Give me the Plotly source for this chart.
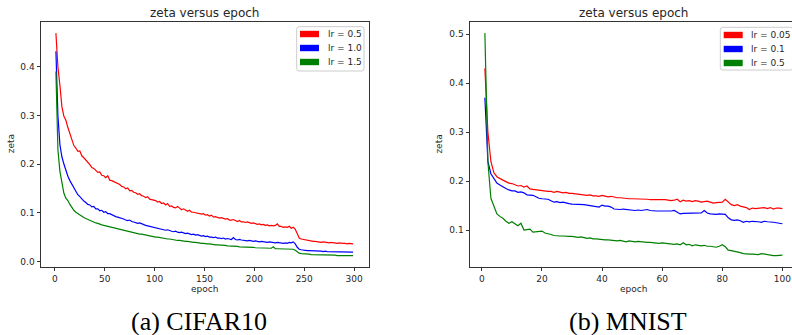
import plotly.graph_objects as go

# ---------------- data ----------------
cifar_epochs = list(range(1, 300, 2))
cifar_lr05 = [
    0.469, 0.400, 0.362, 0.318, 0.298,
    0.290, 0.275, 0.262, 0.250, 0.238,
    0.233, 0.226, 0.227, 0.217, 0.213,
    0.209, 0.203, 0.199, 0.193, 0.191,
    0.187, 0.183, 0.184, 0.177, 0.176,
    0.172, 0.176, 0.167, 0.166, 0.164,
    0.161, 0.160, 0.158, 0.154, 0.153,
    0.149, 0.151, 0.145, 0.146, 0.142,
    0.141, 0.138, 0.139, 0.135, 0.134,
    0.131, 0.133, 0.128, 0.127, 0.126,
    0.125, 0.122, 0.123, 0.119, 0.120,
    0.116, 0.119, 0.113, 0.114, 0.111,
    0.110, 0.113, 0.109, 0.106, 0.108,
    0.105, 0.103, 0.105, 0.101, 0.101,
    0.100, 0.099, 0.098, 0.097, 0.098,
    0.095, 0.096, 0.093, 0.095, 0.091,
    0.092, 0.090, 0.089, 0.090, 0.088,
    0.087, 0.088, 0.085, 0.085, 0.086,
    0.084, 0.082, 0.084, 0.081, 0.081,
    0.080, 0.081, 0.079, 0.078, 0.079,
    0.078, 0.076, 0.077, 0.075, 0.076,
    0.074, 0.075, 0.073, 0.074, 0.073,
    0.074, 0.077, 0.072, 0.072, 0.070,
    0.071, 0.070, 0.072, 0.068, 0.070,
    0.066, 0.055, 0.048, 0.046, 0.045,
    0.044, 0.043, 0.042, 0.042, 0.041,
    0.041, 0.040, 0.040, 0.039, 0.040,
    0.039, 0.039, 0.038, 0.039, 0.038,
    0.038, 0.037, 0.038, 0.037, 0.037,
    0.037, 0.036, 0.037, 0.036, 0.036,
]
cifar_lr10 = [
    0.432, 0.300, 0.240, 0.215, 0.200,
    0.185, 0.175, 0.166, 0.158, 0.150,
    0.143, 0.137, 0.133, 0.128, 0.124,
    0.121, 0.117, 0.116, 0.112, 0.113,
    0.108, 0.108, 0.104, 0.105, 0.101,
    0.102, 0.098, 0.098, 0.096, 0.093,
    0.092, 0.091, 0.090, 0.088, 0.087,
    0.085, 0.084, 0.085, 0.082, 0.081,
    0.080, 0.078, 0.079, 0.077, 0.075,
    0.074, 0.073, 0.072, 0.071, 0.070,
    0.069, 0.068, 0.067, 0.067, 0.065,
    0.064, 0.065, 0.063, 0.062, 0.061,
    0.062, 0.060, 0.059, 0.060, 0.058,
    0.057, 0.058, 0.056, 0.055, 0.056,
    0.054, 0.055, 0.053, 0.052, 0.053,
    0.051, 0.052, 0.050, 0.050, 0.049,
    0.050, 0.048, 0.048, 0.047, 0.048,
    0.046, 0.047, 0.046, 0.045, 0.049,
    0.045, 0.044, 0.045, 0.044, 0.043,
    0.043, 0.042, 0.043, 0.042, 0.041,
    0.042, 0.041, 0.040, 0.041, 0.040,
    0.040, 0.039, 0.040, 0.039, 0.039,
    0.038, 0.039, 0.038, 0.038, 0.037,
    0.038, 0.037, 0.039, 0.038, 0.040,
    0.036, 0.029, 0.025, 0.024, 0.023,
    0.023, 0.022, 0.022, 0.022, 0.021,
    0.022, 0.021, 0.021, 0.021, 0.020,
    0.021, 0.020, 0.020, 0.020, 0.020,
    0.020, 0.019, 0.020, 0.019, 0.019,
    0.019, 0.019, 0.019, 0.019, 0.019,
]
cifar_lr15 = [
    0.390, 0.230, 0.185, 0.160, 0.140,
    0.130, 0.125, 0.117, 0.110, 0.105,
    0.101, 0.098, 0.095, 0.092, 0.090,
    0.088, 0.086, 0.084, 0.082, 0.081,
    0.079, 0.078, 0.076, 0.075, 0.074,
    0.073, 0.071, 0.070, 0.069, 0.068,
    0.067, 0.066, 0.065, 0.064, 0.063,
    0.062, 0.062, 0.061, 0.060, 0.059,
    0.058, 0.057, 0.056, 0.056, 0.055,
    0.054, 0.053, 0.052, 0.052, 0.051,
    0.050, 0.050, 0.049, 0.048, 0.048,
    0.047, 0.046, 0.046, 0.045, 0.044,
    0.044, 0.043, 0.043, 0.042, 0.042,
    0.041, 0.041, 0.040, 0.040, 0.039,
    0.039, 0.038, 0.038, 0.037, 0.037,
    0.036, 0.036, 0.036, 0.035, 0.035,
    0.034, 0.034, 0.034, 0.033, 0.033,
    0.033, 0.032, 0.032, 0.032, 0.031,
    0.031, 0.031, 0.030, 0.030, 0.030,
    0.030, 0.029, 0.029, 0.029, 0.029,
    0.028, 0.028, 0.028, 0.028, 0.027,
    0.027, 0.027, 0.027, 0.027, 0.030,
    0.026, 0.026, 0.026, 0.026, 0.026,
    0.025, 0.025, 0.025, 0.025, 0.025,
    0.023, 0.019, 0.017, 0.016, 0.016,
    0.015, 0.015, 0.015, 0.014, 0.014,
    0.014, 0.014, 0.014, 0.013, 0.013,
    0.013, 0.013, 0.013, 0.013, 0.013,
    0.013, 0.012, 0.012, 0.012, 0.012,
    0.012, 0.012, 0.012, 0.012, 0.012,
]

mnist_epochs = list(range(1, 101))
mnist_lr005 = [
    0.430, 0.300, 0.240, 0.217, 0.209, 0.205, 0.202, 0.199, 0.196, 0.195,
    0.193, 0.190, 0.191, 0.188, 0.190, 0.184, 0.183, 0.182, 0.182, 0.181,
    0.180, 0.179, 0.179, 0.177, 0.179, 0.177, 0.176, 0.177, 0.175, 0.175,
    0.174, 0.173, 0.172, 0.172, 0.171, 0.172, 0.170, 0.170, 0.169, 0.171,
    0.169, 0.168, 0.169, 0.167, 0.166, 0.166, 0.165, 0.165, 0.164, 0.164,
    0.164, 0.163, 0.163, 0.163, 0.163, 0.162, 0.162, 0.163, 0.163, 0.163,
    0.162, 0.161, 0.160, 0.161, 0.163, 0.158, 0.161, 0.159, 0.160, 0.158,
    0.160, 0.159, 0.157, 0.158, 0.159, 0.157, 0.155, 0.156, 0.157, 0.157,
    0.163, 0.157, 0.152, 0.150, 0.152, 0.149, 0.148, 0.146, 0.142, 0.145,
    0.144, 0.145, 0.145, 0.146, 0.144, 0.146, 0.143, 0.145, 0.145, 0.144,
]
mnist_lr01 = [
    0.370, 0.240, 0.215, 0.204, 0.196, 0.192, 0.188, 0.185, 0.182, 0.180,
    0.180, 0.177, 0.178, 0.176, 0.172, 0.172, 0.171, 0.168, 0.165, 0.164,
    0.164, 0.163, 0.160, 0.157, 0.158, 0.156, 0.157, 0.155, 0.154, 0.153,
    0.153, 0.153, 0.152, 0.152, 0.151, 0.150, 0.149, 0.148, 0.147, 0.151,
    0.149, 0.149, 0.147, 0.143, 0.142, 0.142, 0.143, 0.142, 0.141, 0.141,
    0.140, 0.141, 0.140, 0.141, 0.142, 0.140, 0.139, 0.139, 0.139, 0.139,
    0.138, 0.138, 0.139, 0.140, 0.136, 0.133, 0.134, 0.134, 0.134, 0.135,
    0.134, 0.134, 0.135, 0.140, 0.135, 0.133, 0.132, 0.132, 0.133, 0.133,
    0.132, 0.125, 0.121, 0.120, 0.121, 0.119, 0.116, 0.118, 0.117, 0.118,
    0.118, 0.117, 0.116, 0.118, 0.117, 0.117, 0.116, 0.115, 0.114, 0.113,
]
mnist_lr05 = [
    0.502, 0.240, 0.165, 0.147, 0.133, 0.128, 0.124, 0.118, 0.114, 0.117,
    0.113, 0.109, 0.114, 0.100, 0.101, 0.102, 0.096, 0.097, 0.097, 0.098,
    0.094, 0.093, 0.091, 0.089, 0.088, 0.088, 0.088, 0.087, 0.087, 0.087,
    0.086, 0.085, 0.086, 0.084, 0.083, 0.084, 0.082, 0.082, 0.081, 0.080,
    0.080, 0.080, 0.079, 0.079, 0.078, 0.079, 0.077, 0.076, 0.078, 0.077,
    0.076, 0.077, 0.076, 0.075, 0.075, 0.075, 0.074, 0.074, 0.073, 0.074,
    0.073, 0.073, 0.072, 0.071, 0.072, 0.070, 0.074, 0.070, 0.071, 0.068,
    0.070, 0.069, 0.068, 0.069, 0.067, 0.067, 0.066, 0.065, 0.067, 0.070,
    0.066, 0.059, 0.058, 0.057, 0.056, 0.054, 0.052, 0.051, 0.051, 0.051,
    0.051, 0.050, 0.052, 0.051, 0.049, 0.049, 0.048, 0.048, 0.048, 0.049,
]

cifar_labels = ["lr = 0.5", "lr = 1.0", "lr = 1.5"]
mnist_labels = ["lr = 0.05", "lr = 0.1", "lr = 0.5"]
series_colors = ["#ff0000", "#0000ff", "#008000"]

cifar_xticks = [0, 50, 100, 150, 200, 250, 300]
cifar_yticks = [0.0, 0.1, 0.2, 0.3, 0.4]
mnist_xticks = [0, 20, 40, 60, 80, 100]
mnist_yticks = [0.1, 0.2, 0.3, 0.4, 0.5]

panel_title = "zeta versus epoch"
x_label = "epoch"
y_label = "zeta"
captions = ["(a) CIFAR10", "(b) MNIST"]

# ---------------- figure ----------------
W, H = 792, 335


def px(x):
    return x / W


def py(y):
    return 1 - y / H


fig = go.Figure()

for ys, c in zip([cifar_lr05, cifar_lr10, cifar_lr15], series_colors):
    fig.add_trace(go.Scatter(x=cifar_epochs, y=ys, mode="lines",
                             line=dict(color=c, width=1.2),
                             showlegend=False, xaxis="x", yaxis="y"))
for ys, c in zip([mnist_lr005, mnist_lr01, mnist_lr05], series_colors):
    fig.add_trace(go.Scatter(x=mnist_epochs, y=ys, mode="lines",
                             line=dict(color=c, width=1.2),
                             showlegend=False, xaxis="x2", yaxis="y2"))

FONT = "DejaVu Sans"
TXT = "#262626"
axis_common = dict(showgrid=False, zeroline=False, showline=True,
                   linecolor="#333333", linewidth=1, ticks="outside",
                   ticklen=3.5, tickwidth=0.8, tickcolor="#333333",
                   tickfont=dict(family=FONT, size=9, color=TXT))

fig.update_layout(
    width=W, height=H,
    margin=dict(l=0, r=0, t=0, b=0),
    paper_bgcolor="white", plot_bgcolor="white",
    showlegend=False,
    xaxis=dict(domain=[px(41), px(369)], range=[-13.95, 314.95],
               tickvals=cifar_xticks, ticktext=[str(v) for v in cifar_xticks],
               mirror=True, anchor="y", **axis_common),
    yaxis=dict(domain=[py(266.7), py(22)], range=[-0.0109, 0.4919],
               tickvals=cifar_yticks, ticktext=[f"{v:.1f}" for v in cifar_yticks],
               mirror=True, anchor="x", **axis_common),
    xaxis2=dict(domain=[px(470), 1.0], range=[-3.95, 103.2],
                tickvals=mnist_xticks, ticktext=[str(v) for v in mnist_xticks],
                mirror=True, anchor="y2", **axis_common),
    yaxis2=dict(domain=[py(266.7), py(22)], range=[0.0253, 0.5247],
                tickvals=mnist_yticks, ticktext=[f"{v:.1f}" for v in mnist_yticks],
                mirror=False, anchor="x2", **axis_common),
)

annotations = []
shapes = []

# titles, axis labels, captions
for cx, ylx in [(205, 11), (633.7, 439.3)]:
    annotations.append(dict(x=px(cx), y=py(12.7), xref="paper", yref="paper",
                            text=panel_title, showarrow=False,
                            xanchor="center", yanchor="middle",
                            font=dict(family=FONT, size=12, color=TXT)))
    annotations.append(dict(x=px(cx), y=py(288.7), xref="paper", yref="paper",
                            text=x_label, showarrow=False,
                            xanchor="center", yanchor="middle",
                            font=dict(family=FONT, size=9, color=TXT)))
    annotations.append(dict(x=px(ylx), y=py(144.3), xref="paper", yref="paper",
                            text=y_label, showarrow=False, textangle=-90,
                            xanchor="center", yanchor="middle",
                            font=dict(family=FONT, size=9, color=TXT)))

for cap, cx in zip(captions, [199, 628]):
    annotations.append(dict(x=px(cx), y=py(321), xref="paper", yref="paper",
                            text=cap, showarrow=False,
                            xanchor="center", yanchor="middle",
                            font=dict(family="Liberation Serif", size=26, color="black")))


def rounded_rect(x0, y0, x1, y1, r=2.5):
    # pixel coords, y down
    X0, X1 = px(x0), px(x1)
    Y0, Y1 = py(y0), py(y1)
    rx, ry = r / W, r / H
    return (f"M {X0 + rx},{Y0} L {X1 - rx},{Y0} Q {X1},{Y0} {X1},{Y0 - ry} "
            f"L {X1},{Y1 + ry} Q {X1},{Y1} {X1 - rx},{Y1} "
            f"L {X0 + rx},{Y1} Q {X0},{Y1} {X0},{Y1 + ry} "
            f"L {X0},{Y0 - ry} Q {X0},{Y0} {X0 + rx},{Y0} Z")


legend_specs = [
    (cifar_labels, 296.7, 364.0, 26.7, 71.0, 300.0, 34.0),
    (mnist_labels, 720.3, 793.0, 27.3, 70.0, 723.7, 35.0),
]
for labels, bx0, bx1, by0, by1, patch_x, row0 in legend_specs:
    shapes.append(dict(type="path", xref="paper", yref="paper",
                       path=rounded_rect(bx0, by0, bx1, by1),
                       line=dict(color="#cccccc", width=1),
                       fillcolor="rgba(255,255,255,0.8)", layer="above"))
    for i, (lab, col) in enumerate(zip(labels, series_colors)):
        cy = row0 + i * 14.0
        shapes.append(dict(type="rect", xref="paper", yref="paper",
                           x0=px(patch_x), x1=px(patch_x + 19),
                           y0=py(cy - 3.2), y1=py(cy + 3.2),
                           line=dict(width=0), fillcolor=col, layer="above"))
        annotations.append(dict(x=px(patch_x + 25.5), y=py(cy), xref="paper", yref="paper",
                                text=lab, showarrow=False,
                                xanchor="left", yanchor="middle",
                                font=dict(family=FONT, size=9, color=TXT)))

fig.update_layout(annotations=annotations, shapes=shapes)

fig.write_html(
    "out.html",
    config={"displayModeBar": False},
    post_script="document.body.style.margin='0';document.body.style.padding='0';"
                "document.documentElement.style.overflow='hidden';",
)
